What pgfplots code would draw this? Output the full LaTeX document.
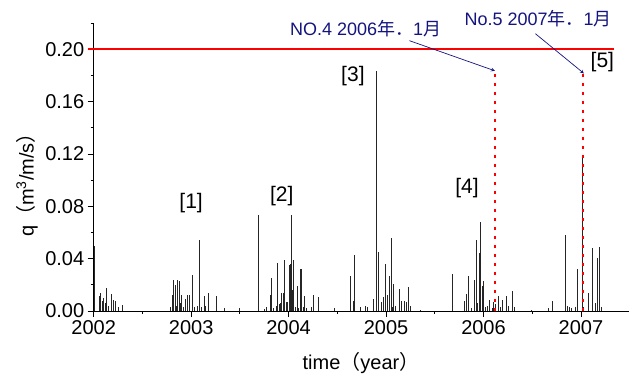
\documentclass[border=0pt]{standalone}
\usepackage{pgfplots}
\pgfplotsset{compat=1.18}
\usepackage{fontspec}
\setmainfont{Liberation Sans}
\newfontfamily\jp{Noto Sans CJK JP}
\definecolor{navy}{RGB}{20,20,128}
\begin{document}
\begin{tikzpicture}
\begin{axis}[
  at={(0,0)}, anchor=south west,
  scale only axis, width=535pt, height=288pt,
  xmin=2002, xmax=2007.49, ymin=0, ymax=0.22,
  axis x line=bottom, axis y line=left,
  axis line style={-, line width=0.8pt},
  tick align=outside,
  major tick length=6pt, minor tick length=3pt,
  every tick/.style={black, line width=0.8pt},
  xtick={2002,2003,2004,2005,2006,2007},
  minor xtick={2002.5,2003.5,2004.5,2005.5,2006.5},
  ytick={0,0.04,0.08,0.12,0.16,0.20},
  minor ytick={0.02,0.06,0.10,0.14,0.18,0.22},
  /pgf/number format/assume math mode=true,
  xticklabel style={/pgf/number format/1000 sep={}, font=\fontsize{20}{22}\selectfont},
  yticklabel style={/pgf/number format/.cd, fixed, fixed zerofill, precision=2, /tikz/font=\fontsize{20}{22}\selectfont},
  scaled y ticks=false,
  clip=false,
]
\addplot[ycomb, black!85, line width=0.8pt, mark=none] coordinates {
(2002.003,0.021) (2002.006,0.050) (2002.057,0.0114) (2002.07,0.014) (2002.085,0.008)
(2002.10,0.0097) (2002.115,0.006) (2002.13,0.0178) (2002.15,0.004) (2002.18,0.013)
(2002.205,0.0084) (2002.22,0.0076) (2002.25,0.0033) (2002.29,0.0046)
(2002.79,0.003) (2002.81,0.012) (2002.82,0.024) (2002.84,0.0198) (2002.85,0.004)
(2002.86,0.024) (2002.875,0.023) (2002.885,0.006) (2002.90,0.012) (2002.92,0.003)
(2002.94,0.0095) (2002.957,0.012) (2002.98,0.0122) (2003.008,0.0274) (2003.03,0.003)
(2003.06,0.004) (2003.08,0.054) (2003.11,0.003) (2003.134,0.0114) (2003.15,0.004)
(2003.18,0.0135) (2003.26,0.0114) (2003.34,0.002) (2003.50,0.002)
(2003.695,0.073) (2003.75,0.0017) (2003.775,0.003) (2003.81,0.012) (2003.82,0.025)
(2003.84,0.002) (2003.87,0.004) (2003.885,0.037) (2003.905,0.005) (2003.915,0.006)
(2003.93,0.0135) (2003.945,0.014) (2003.96,0.039) (2003.975,0.007) (2003.99,0.007)
(2004.006,0.035) (2004.016,0.036) (2004.027,0.073) (2004.037,0.0162) (2004.047,0.039)
(2004.068,0.003) (2004.088,0.019) (2004.10,0.002) (2004.116,0.032) (2004.136,0.032)
(2004.15,0.003) (2004.167,0.0115) (2004.18,0.002) (2004.23,0.003) (2004.25,0.012)
(2004.31,0.011) (2004.47,0.002)
(2004.63,0.027) (2004.66,0.008) (2004.68,0.043) (2004.74,0.003) (2004.79,0.004)
(2004.81,0.003) (2004.87,0.009) (2004.90,0.1836) (2004.92,0.0447) (2004.95,0.007)
(2004.975,0.0107) (2004.995,0.0357) (2005.01,0.012) (2005.03,0.0267) (2005.05,0.056)
(2005.065,0.003) (2005.08,0.021) (2005.10,0.004) (2005.14,0.0165) (2005.16,0.008)
(2005.19,0.008) (2005.21,0.007) (2005.23,0.0185) (2005.25,0.004) (2005.35,0.0005)
(2005.68,0.028) (2005.805,0.008) (2005.825,0.0127) (2005.85,0.027) (2005.88,0.002)
(2005.91,0.024) (2005.925,0.054) (2005.94,0.006) (2005.96,0.044) (2005.97,0.068)
(2005.985,0.019) (2006.00,0.023) (2006.015,0.003) (2006.04,0.004) (2006.065,0.0085)
(2006.09,0.002) (2006.10,0.007) (2006.12,0.005) (2006.15,0.0114) (2006.17,0.003)
(2006.19,0.0083) (2006.235,0.0117) (2006.26,0.004) (2006.30,0.015) (2006.315,0.003)
(2006.495,0.001) (2006.67,0.002) (2006.71,0.0074)
(2006.845,0.058) (2006.865,0.004) (2006.885,0.003) (2006.905,0.002) (2006.94,0.003)
(2006.96,0.032) (2007.015,0.117) (2007.03,0.003) (2007.08,0.014) (2007.118,0.0478)
(2007.15,0.006) (2007.17,0.0406) (2007.19,0.049) (2007.21,0.003)
};
\addplot[red, line width=2pt, mark=none] coordinates {(2001.94,0.20) (2007.34,0.20)};
\addplot[red, line width=2pt, dash pattern=on 3pt off 6pt, mark=none] coordinates {(2006.12,0) (2006.12,0.185)};
\addplot[red, line width=2pt, dash pattern=on 3pt off 6pt, mark=none] coordinates {(2007.025,0) (2007.025,0.185)};
\draw[navy, line width=0.7pt, -stealth] (axis cs:2005.24,0.2065) -- (axis cs:2006.116,0.1835);
\draw[navy, line width=0.7pt, -stealth] (axis cs:2006.533,0.2118) -- (axis cs:2007.03,0.1815);
\node[navy, font=\fontsize{18}{20}\selectfont] at (axis cs:2004.79,0.2156) {NO.4 2006{\jp 年．}1{\jp 月}};
\node[navy, font=\fontsize{18}{20}\selectfont] at (axis cs:2006.56,0.2232) {No.5 2007{\jp 年．}1{\jp 月}};
\node[font=\fontsize{21}{23}\selectfont] at (axis cs:2003.0,0.0823) {[1]};
\node[font=\fontsize{21}{23}\selectfont] at (axis cs:2003.93,0.0876) {[2]};
\node[font=\fontsize{21}{23}\selectfont] at (axis cs:2004.66,0.1798) {[3]};
\node[font=\fontsize{21}{23}\selectfont] at (axis cs:2005.83,0.0937) {[4]};
\node[font=\fontsize{21}{23}\selectfont] at (axis cs:2007.22,0.190) {[5]};
\end{axis}
\node[font=\fontsize{20}{22}\selectfont] at (267.3pt,-52pt) {time{\jp （}year{\jp ）}};
\node[rotate=90, font=\fontsize{20}{22}\selectfont] at (-66.7pt,131pt) {q{\jp （}m\textsuperscript{3}/m/s{\jp ）}};
\pgfresetboundingbox
\useasboundingbox (-93.7pt,-67pt) rectangle (539.3pt,311pt);
\end{tikzpicture}
\end{document}
